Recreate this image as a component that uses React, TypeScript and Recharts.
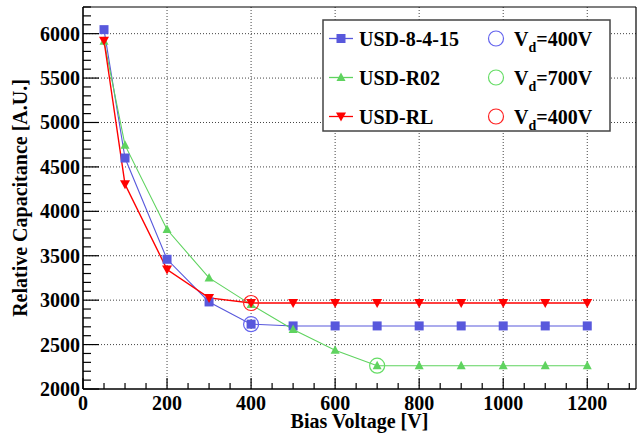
import React from 'react';
import { ComposedChart, Line, Scatter, XAxis, YAxis, ReferenceLine, Legend } from 'recharts';

const voltages = [50, 100, 200, 300, 400, 500, 600, 700, 800, 900, 1000, 1100, 1200];
const usd8415 = [6045, 4600, 3460, 2980, 2730, 2710, 2710, 2710, 2710, 2710, 2710, 2710, 2710];
const usdR02 = [5915, 4745, 3795, 3250, 2950, 2670, 2435, 2262, 2262, 2262, 2262, 2262, 2262];
const usdRL = [5920, 4305, 3345, 3025, 2968, 2968, 2968, 2968, 2968, 2968, 2968, 2968, 2968];

const depBlue = [{ x: 400, y: 2730 }];
const depGreen = [{ x: 700, y: 2262 }];
const depRed = [{ x: 400, y: 2968 }];

const xMajorTicks = [0, 200, 400, 600, 800, 1000, 1200];
const yMajorTicks = [2000, 2500, 3000, 3500, 4000, 4500, 5000, 5500, 6000];
const xGrid = [200, 400, 600, 800, 1000, 1200];
const yGrid = [2500, 3000, 3500, 4000, 4500, 5000, 5500, 6000];
const xMinorTicks = Array.from({ length: 27 }, (_, i) => i * 50);
const yMinorTicks = Array.from({ length: 44 }, (_, i) => 2000 + i * 100);

const X_MAX = 1316;
const Y_MIN = 2000;
const Y_MAX = 6300;

const BLUE = '#5858dc';
const GREEN = '#5fd35f';
const RED = '#ff0000';
const FONT = '"Liberation Serif", "Times New Roman", serif';

const toRows = (ys: number[]) => voltages.map((x, i) => ({ x, y: ys[i] }));
const blueData = toRows(usd8415);
const greenData = toRows(usdR02);
const redData = toRows(usdRL);

const SquareDot = (p: any) =>
  p.cx == null ? <g key={p.index} /> : (
    <rect key={p.index} x={p.cx - 4.5} y={p.cy - 4.5} width={9} height={9} fill={BLUE} />
  );
const TriUpDot = (p: any) =>
  p.cx == null ? <g key={p.index} /> : (
    <polygon key={p.index} points={`${p.cx},${p.cy - 5} ${p.cx - 4.5},${p.cy + 3.5} ${p.cx + 4.5},${p.cy + 3.5}`} fill={GREEN} />
  );
const TriDownDot = (p: any) =>
  p.cx == null ? <g key={p.index} /> : (
    <polygon key={p.index} points={`${p.cx},${p.cy + 5} ${p.cx - 5},${p.cy - 4} ${p.cx + 5},${p.cy - 4}`} fill={RED} />
  );

const circleShape = (color: string) => (p: any) => (
  <circle cx={p.cx} cy={p.cy} r={7.5} fill="none" stroke={color} strokeWidth={1.2} />
);

const YTick = (p: any) => {
  const v = p.payload.value;
  const major = yMajorTicks.includes(v);
  return (
    <g>
      <line x1={p.x} y1={p.y} x2={p.x + (major ? 16 : 8)} y2={p.y} stroke="#000" strokeWidth={1.2} />
      {major && (
        <text x={p.x - 3} y={p.y} dy={7} textAnchor="end" fontFamily={FONT} fontWeight="bold" fontSize={20} fill="#000">
          {v}
        </text>
      )}
    </g>
  );
};

const XTick = (p: any) => {
  const v = p.payload.value;
  const major = xMajorTicks.includes(v);
  return (
    <g>
      <line x1={p.x} y1={p.y} x2={p.x} y2={p.y - (major ? 11 : 6)} stroke="#000" strokeWidth={1.2} />
      {major && (
        <text x={p.x} y={p.y + 21} textAnchor="middle" fontFamily={FONT} fontWeight="bold" fontSize={20} fill="#000">
          {v}
        </text>
      )}
    </g>
  );
};

const seriesLegend = [
  { name: 'USD-8-4-15', color: BLUE, marker: 'square' },
  { name: 'USD-R02', color: GREEN, marker: 'up' },
  { name: 'USD-RL', color: RED, marker: 'down' },
];
const depLegend = [
  { value: '=400V', color: '#6464ee' },
  { value: '=700V', color: '#66dd66' },
  { value: '=400V', color: '#ff2222' },
];

const LegendBox = () => (
  <svg width={290} height={114} style={{ display: 'block' }}>
    <rect x={1} y={1} width={287} height={111} fill="#fff" stroke="#444" strokeWidth={1.5} />
    {seriesLegend.map((s, i) => {
      const cy = 19.5 + i * 39;
      const cx = 19;
      let mk;
      if (s.marker === 'square') mk = <rect x={cx - 4.5} y={cy - 4.5} width={9} height={9} fill={s.color} />;
      else if (s.marker === 'up')
        mk = <polygon points={`${cx},${cy - 5} ${cx - 4.5},${cy + 3.5} ${cx + 4.5},${cy + 3.5}`} fill={s.color} />;
      else mk = <polygon points={`${cx},${cy + 5} ${cx - 5},${cy - 4} ${cx + 5},${cy - 4}`} fill={s.color} />;
      return (
        <g key={s.name}>
          <line x1={7} y1={cy} x2={31} y2={cy} stroke={s.color} strokeWidth={1.3} />
          {mk}
          <text x={37} y={cy + 7} fontFamily={FONT} fontWeight="bold" fontSize={20} fill="#000">
            {s.name}
          </text>
          <circle cx={174} cy={cy} r={7.5} fill="none" stroke={depLegend[i].color} strokeWidth={1.2} />
          <text x={192} y={cy + 7} fontFamily={FONT} fontWeight="bold" fontSize={20} fill="#000">
            V
            <tspan fontSize={14} dy={6}>d</tspan>
            <tspan dy={-6}>{depLegend[i].value}</tspan>
          </text>
        </g>
      );
    })}
  </svg>
);

export default function App() {
  return (
    <div style={{ position: 'absolute', left: 0, top: 0, width: 643, height: 434, background: '#fff' }}>
      <ComposedChart width={643} height={434} margin={{ top: 7, right: 7, bottom: 0, left: 0 }}>
        <XAxis
          dataKey="x"
          type="number"
          domain={[0, X_MAX]}
          ticks={xMinorTicks}
          interval={0}
          allowDataOverflow
          height={45}
          tickSize={0}
          tickMargin={0}
          tick={<XTick />}
          axisLine={{ stroke: '#000', strokeWidth: 1.6 }}
          label={{
            content: (lp: any) => {
              const vb = lp.viewBox || {};
              return (
                <text x={vb.x + vb.width / 2} y={vb.y + 39} textAnchor="middle" fontFamily={FONT} fontWeight="bold" fontSize={20} fill="#000">
                  Bias Voltage [V]
                </text>
              );
            },
          }}
        />
        <YAxis
          dataKey="y"
          type="number"
          domain={[Y_MIN, Y_MAX]}
          ticks={yMinorTicks}
          interval={0}
          allowDataOverflow
          width={83}
          tickSize={0}
          tickMargin={0}
          tick={<YTick />}
          axisLine={{ stroke: '#000', strokeWidth: 1.6 }}
          label={{
            content: (lp: any) => {
              const vb = lp.viewBox || {};
              const cx = vb.x + 20;
              const cy = vb.y + vb.height / 2;
              return (
                <text x={cx} y={cy} transform={`rotate(-90 ${cx} ${cy})`} textAnchor="middle" dominantBaseline="central" fontFamily={FONT} fontWeight="bold" fontSize={20} fill="#000">
                  Relative Capacitance [A.U.]
                </text>
              );
            },
          }}
        />
        {yGrid.map((v) => (
          <ReferenceLine key={'hy' + v} y={v} stroke="#444" strokeDasharray="1 2" strokeWidth={1} />
        ))}
        {xGrid.map((v) => (
          <ReferenceLine key={'vx' + v} x={v} stroke="#444" strokeDasharray="1 2" strokeWidth={1} />
        ))}
        <ReferenceLine y={Y_MAX} stroke="#000" strokeWidth={1.2} />
        <ReferenceLine x={X_MAX} stroke="#000" strokeWidth={1.2} />
        <Line data={blueData} dataKey="y" stroke={BLUE} strokeWidth={1.1} dot={SquareDot} activeDot={false} isAnimationActive={false} />
        <Line data={greenData} dataKey="y" stroke={GREEN} strokeWidth={1.1} dot={TriUpDot} activeDot={false} isAnimationActive={false} />
        <Line data={redData} dataKey="y" stroke={RED} strokeWidth={1.4} dot={TriDownDot} activeDot={false} isAnimationActive={false} />
        <Scatter data={depBlue} dataKey="y" shape={circleShape('#6464ee')} isAnimationActive={false} />
        <Scatter data={depGreen} dataKey="y" shape={circleShape('#66dd66')} isAnimationActive={false} />
        <Scatter data={depRed} dataKey="y" shape={circleShape('#ff2222')} isAnimationActive={false} />
        <Legend
          layout="vertical"
          align="center"
          verticalAlign="middle"
          content={() => <LegendBox />}
          wrapperStyle={{ position: 'absolute', left: 322, top: 19, width: 290, height: 114 }}
        />
      </ComposedChart>
    </div>
  );
}
